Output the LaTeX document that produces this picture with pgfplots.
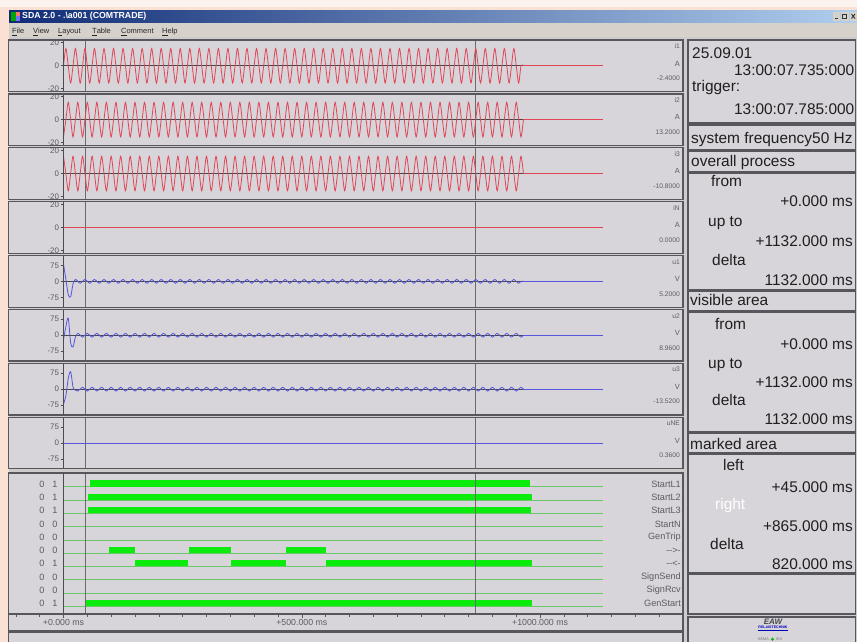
\documentclass[border=0pt]{standalone}
\usepackage{pgfplots}
\pgfplotsset{compat=1.18}
\usepackage{pgfplotstable}
\usepackage{fontspec}
\setmainfont{Liberation Sans}

\definecolor{peach}{RGB}{250,225,211}
\definecolor{peachlt}{RGB}{253,243,238}
\definecolor{winbg}{RGB}{206,203,205}
\definecolor{panelbg}{RGB}{215,212,218}
\definecolor{menubg}{RGB}{214,210,203}
\definecolor{frame}{RGB}{86,86,92}
\definecolor{txt}{RGB}{92,92,98}
\definecolor{ired}{RGB}{226,70,84}
\definecolor{ublue}{RGB}{86,86,222}
\definecolor{dgreen}{RGB}{12,236,12}
\definecolor{dline}{RGB}{105,200,105}
\definecolor{tbl}{RGB}{16,44,118}
\definecolor{tbr}{RGB}{176,206,238}

\newcommand{\sm}{\fontsize{8}{9}\selectfont}
\newcommand{\vs}{\fontsize{6.7}{7.5}\selectfont}
\newcommand{\dg}{\fontsize{9.2}{10}\selectfont}
\newcommand{\bg}{\fontsize{15.5}{17}\selectfont}

% sampled waves, 5 ms steps (peaks and zero crossings), currents in A, voltages in V
\pgfplotstableread{
t i1 i2 i3 u1 u2 u3
0 0 -15 15 80 -20 -70
5 15 0 0 10 40 -30
10 0 15 -15 -62 80 50
15 -15 0 0 -72 -35 82
20 0 -15 15 -12 -55 10
25 15 0 0 9 -8 -5
30 0 15 -15 0 9 -9
35 -15 0 0 -9 0 0
40 0 -15 15 0 -9 9
45 15 0 0 9 0 0
50 0 15 -15 0 9 -9
55 -15 0 0 -9 0 0
60 0 -15 15 0 -9 9
65 15 0 0 9 0 0
70 0 15 -15 0 9 -9
75 -15 0 0 -9 0 0
80 0 -15 15 0 -9 9
85 15 0 0 9 0 0
90 0 15 -15 0 9 -9
95 -15 0 0 -9 0 0
100 0 -15 15 0 -9 9
105 15 0 0 9 0 0
110 0 15 -15 0 9 -9
115 -15 0 0 -9 0 0
120 0 -15 15 0 -9 9
125 15 0 0 9 0 0
130 0 15 -15 0 9 -9
135 -15 0 0 -9 0 0
140 0 -15 15 0 -9 9
145 15 0 0 9 0 0
150 0 15 -15 0 9 -9
155 -15 0 0 -9 0 0
160 0 -15 15 0 -9 9
165 15 0 0 9 0 0
170 0 15 -15 0 9 -9
175 -15 0 0 -9 0 0
180 0 -15 15 0 -9 9
185 15 0 0 9 0 0
190 0 15 -15 0 9 -9
195 -15 0 0 -9 0 0
200 0 -15 15 0 -9 9
205 15 0 0 9 0 0
210 0 15 -15 0 9 -9
215 -15 0 0 -9 0 0
220 0 -15 15 0 -9 9
225 15 0 0 9 0 0
230 0 15 -15 0 9 -9
235 -15 0 0 -9 0 0
240 0 -15 15 0 -9 9
245 15 0 0 9 0 0
250 0 15 -15 0 9 -9
255 -15 0 0 -9 0 0
260 0 -15 15 0 -9 9
265 15 0 0 9 0 0
270 0 15 -15 0 9 -9
275 -15 0 0 -9 0 0
280 0 -15 15 0 -9 9
285 15 0 0 9 0 0
290 0 15 -15 0 9 -9
295 -15 0 0 -9 0 0
300 0 -15 15 0 -9 9
305 15 0 0 9 0 0
310 0 15 -15 0 9 -9
315 -15 0 0 -9 0 0
320 0 -15 15 0 -9 9
325 15 0 0 9 0 0
330 0 15 -15 0 9 -9
335 -15 0 0 -9 0 0
340 0 -15 15 0 -9 9
345 15 0 0 9 0 0
350 0 15 -15 0 9 -9
355 -15 0 0 -9 0 0
360 0 -15 15 0 -9 9
365 15 0 0 9 0 0
370 0 15 -15 0 9 -9
375 -15 0 0 -9 0 0
380 0 -15 15 0 -9 9
385 15 0 0 9 0 0
390 0 15 -15 0 9 -9
395 -15 0 0 -9 0 0
400 0 -15 15 0 -9 9
405 15 0 0 9 0 0
410 0 15 -15 0 9 -9
415 -15 0 0 -9 0 0
420 0 -15 15 0 -9 9
425 15 0 0 9 0 0
430 0 15 -15 0 9 -9
435 -15 0 0 -9 0 0
440 0 -15 15 0 -9 9
445 15 0 0 9 0 0
450 0 15 -15 0 9 -9
455 -15 0 0 -9 0 0
460 0 -15 15 0 -9 9
465 15 0 0 9 0 0
470 0 15 -15 0 9 -9
475 -15 0 0 -9 0 0
480 0 -15 15 0 -9 9
485 15 0 0 9 0 0
490 0 15 -15 0 9 -9
495 -15 0 0 -9 0 0
500 0 -15 15 0 -9 9
505 15 0 0 9 0 0
510 0 15 -15 0 9 -9
515 -15 0 0 -9 0 0
520 0 -15 15 0 -9 9
525 15 0 0 9 0 0
530 0 15 -15 0 9 -9
535 -15 0 0 -9 0 0
540 0 -15 15 0 -9 9
545 15 0 0 9 0 0
550 0 15 -15 0 9 -9
555 -15 0 0 -9 0 0
560 0 -15 15 0 -9 9
565 15 0 0 9 0 0
570 0 15 -15 0 9 -9
575 -15 0 0 -9 0 0
580 0 -15 15 0 -9 9
585 15 0 0 9 0 0
590 0 15 -15 0 9 -9
595 -15 0 0 -9 0 0
600 0 -15 15 0 -9 9
605 15 0 0 9 0 0
610 0 15 -15 0 9 -9
615 -15 0 0 -9 0 0
620 0 -15 15 0 -9 9
625 15 0 0 9 0 0
630 0 15 -15 0 9 -9
635 -15 0 0 -9 0 0
640 0 -15 15 0 -9 9
645 15 0 0 9 0 0
650 0 15 -15 0 9 -9
655 -15 0 0 -9 0 0
660 0 -15 15 0 -9 9
665 15 0 0 9 0 0
670 0 15 -15 0 9 -9
675 -15 0 0 -9 0 0
680 0 -15 15 0 -9 9
685 15 0 0 9 0 0
690 0 15 -15 0 9 -9
695 -15 0 0 -9 0 0
700 0 -15 15 0 -9 9
705 15 0 0 9 0 0
710 0 15 -15 0 9 -9
715 -15 0 0 -9 0 0
720 0 -15 15 0 -9 9
725 15 0 0 9 0 0
730 0 15 -15 0 9 -9
735 -15 0 0 -9 0 0
740 0 -15 15 0 -9 9
745 15 0 0 9 0 0
750 0 15 -15 0 9 -9
755 -15 0 0 -9 0 0
760 0 -15 15 0 -9 9
765 15 0 0 9 0 0
770 0 15 -15 0 9 -9
775 -15 0 0 -9 0 0
780 0 -15 15 0 -9 9
785 15 0 0 9 0 0
790 0 15 -15 0 9 -9
795 -15 0 0 -9 0 0
800 0 -15 15 0 -9 9
805 15 0 0 9 0 0
810 0 15 -15 0 9 -9
815 -15 0 0 -9 0 0
820 0 -15 15 0 -9 9
825 15 0 0 9 0 0
830 0 15 -15 0 9 -9
835 -15 0 0 -9 0 0
840 0 -15 15 0 -9 9
845 15 0 0 9 0 0
850 0 15 -15 0 9 -9
855 -15 0 0 -9 0 0
860 0 -15 15 0 -9 9
865 15 0 0 9 0 0
870 0 15 -15 0 9 -9
875 -15 0 0 -9 0 0
880 0 -15 15 0 -9 9
885 15 0 0 9 0 0
890 0 15 -15 0 9 -9
895 -15 0 0 -9 0 0
900 0 -15 15 0 -9 9
905 15 0 0 9 0 0
910 0 15 -15 0 9 -9
915 -15 0 0 -9 0 0
920 0 -15 15 0 -9 9
925 15 0 0 9 0 0
930 0 15 -15 0 9 -9
935 -15 0 0 -9 0 0
940 0 -15 15 0 -9 9
945 15 0 0 9 0 0
950 0 15 -15 0 9 -9
955 -15 0 0 -9 0 0
960 0 -15 15 0 -9 9
965 0 0 0 0 0 0
}\wave

\pgfplotsset{
  panel/.style={scale only axis, width=539.5bp, height=50bp, anchor=north west,
    xmin=0, xmax=1132, axis line style={draw=none}, xtick=\empty,
    ytick pos=left, tick align=outside, major tick length=3bp,
    tick style={draw=black!70, line width=0.6bp},
    tick label style={font=\sm, text=txt},
    yticklabel style={inner sep=1.2bp},
    /pgf/number format/assume math mode=true},
  ipanel/.style={panel, ymin=-21.7, ymax=21.7, ytick={-20,0,20}},
  upanel/.style={panel, ymin=-117, ymax=117, ytick={-75,0,75}},
  zl/.style={black!72, line width=0.8bp},
  cur/.style={black!58, line width=0.7bp},
  iw/.style={ired, line width=0.8bp},
  uw/.style={ublue, line width=0.8bp},
  bar/.style={dgreen, line width=6.3bp},
}
\newcommand{\cursors}{%
  \addplot[cur] coordinates {(45,-300)(45,300)};
  \addplot[cur] coordinates {(865,-300)(865,300)};}

\begin{document}
\begin{tikzpicture}
\useasboundingbox (0,0) rectangle (857bp,-642bp);

% ---------- window chrome (screen pixels, y downwards)
\begin{scope}[x=1bp,y=-1bp]
  \fill[peach] (0,0) rectangle (857,642);
  \fill[peachlt] (0,0) rectangle (857,7);
  \fill[winbg] (9,10) rectangle (857,642);
  \shade[left color=tbl, right color=tbr] (9,10) rectangle (857,22.5);
  \fill[green!65!black] (11,11.5) rectangle (15.5,21);
  \fill[red!55] (15.5,11.5) rectangle (20,16);
  \fill[blue!55] (15.5,16) rectangle (20,21);
  \node[anchor=west, inner sep=0, text=white, font=\bfseries\fontsize{8.8}{9}\selectfont]
    at (22,16.3) {SDA 2.0 - .\textbackslash a001 (COMTRADE)};
  \foreach \bx in {832.5,841,849.5}
    \fill[menubg] (\bx,12) rectangle (\bx+7.5,20.5);
  \draw[black!80, line width=0.9bp] (834.5,18.5) -- (838,18.5);
  \draw[black!80, line width=0.7bp] (842.7,14) rectangle (846.8,18.5);
  \draw[black!80, line width=0.9bp] (851.5,14) -- (855,18.5) (851.5,18.5) -- (855,14);
  \fill[menubg] (9,22.5) rectangle (857,36.5);
  \foreach \mx/\ml in {12/\underline{F}ile, 33/\underline{V}iew, 58/\underline{L}ayout,
      92/\underline{T}able, 121/\underline{C}omment, 162/\underline{H}elp}
    \node[anchor=base west, inner sep=0, font=\fontsize{7.5}{8}\selectfont, text=black!85]
      at (\mx,33.8) {\ml};
  % panels
  \foreach \T in {40,93.9,147.8,201.7,255.6,309.5,363.4,417.3}
    \fill[panelbg] (8.5,\T) rectangle (683,\T+51.5);
  \fill[panelbg] (8.5,473) rectangle (683,613.5);
  \fill[panelbg] (8.5,614.8) rectangle (683,630.5);
  \fill[panelbg] (8.5,632) rectangle (683,643);
  \foreach \a/\b in {40/123, 125/150, 151.5/172, 173.5/290, 291.5/311, 312.5/432,
      433.5/453, 454.5/573, 574.5/614, 617/643}
    \fill[panelbg] (688,\a) rectangle (855.5,\b);
\end{scope}

% ---------- analog channels
\begin{axis}[ipanel, at={(63.5bp,-40.75bp)}]
  \addplot[zl] coordinates {(0,0)(1132,0)};
  \cursors
  \addplot[iw, smooth] table[x=t, y=i1] {\wave};
  \addplot[iw] coordinates {(965,0)(1132,0)};
\end{axis}
\begin{axis}[ipanel, at={(63.5bp,-94.65bp)}]
  \addplot[zl] coordinates {(0,0)(1132,0)};
  \cursors
  \addplot[iw, smooth] table[x=t, y=i2] {\wave};
  \addplot[iw] coordinates {(965,0)(1132,0)};
\end{axis}
\begin{axis}[ipanel, at={(63.5bp,-148.55bp)}]
  \addplot[zl] coordinates {(0,0)(1132,0)};
  \cursors
  \addplot[iw, smooth] table[x=t, y=i3] {\wave};
  \addplot[iw] coordinates {(965,0)(1132,0)};
\end{axis}
\begin{axis}[ipanel, at={(63.5bp,-202.45bp)}]
  \cursors
  \addplot[iw] coordinates {(0,0)(1132,0)};
\end{axis}
\begin{axis}[upanel, at={(63.5bp,-256.35bp)}]
  \addplot[zl] coordinates {(0,0)(1132,0)};
  \cursors
  \addplot[uw, smooth] table[x=t, y=u1] {\wave};
  \addplot[uw] coordinates {(965,0)(1132,0)};
\end{axis}
\begin{axis}[upanel, at={(63.5bp,-310.25bp)}]
  \addplot[zl] coordinates {(0,0)(1132,0)};
  \cursors
  \addplot[uw, smooth] table[x=t, y=u2] {\wave};
  \addplot[uw] coordinates {(965,0)(1132,0)};
\end{axis}
\begin{axis}[upanel, at={(63.5bp,-364.15bp)}]
  \addplot[zl] coordinates {(0,0)(1132,0)};
  \cursors
  \addplot[uw, smooth] table[x=t, y=u3] {\wave};
  \addplot[uw] coordinates {(965,0)(1132,0)};
\end{axis}
\begin{axis}[upanel, at={(63.5bp,-418.05bp)}]
  \cursors
  \addplot[uw] coordinates {(0,0)(1132,0)};
\end{axis}

% ---------- binary channels (row i has its base line at y=-i)
\begin{axis}[scale only axis, width=539.5bp, height=139bp, anchor=north west,
    at={(63.5bp,-474bp)}, xmin=0, xmax=1132, ymin=-9.5, ymax=0.955,
    axis line style={draw=none}, xtick=\empty, ytick=\empty]
  \pgfplotsinvokeforeach{0,...,9}{\addplot[dline, line width=0.6bp] coordinates {(0,-#1)(1132,-#1)};}
  \addplot[bar] coordinates {(56,0.235)(979,0.235)};          % StartL1
  \addplot[bar] coordinates {(52,-0.765)(984,-0.765)};        % StartL2
  \addplot[bar] coordinates {(52,-1.765)(980,-1.765)};        % StartL3
  \addplot[bar] coordinates {(95,-4.765)(151,-4.765)};        % -->-
  \addplot[bar] coordinates {(263,-4.765)(352,-4.765)};
  \addplot[bar] coordinates {(466,-4.765)(550,-4.765)};
  \addplot[bar] coordinates {(151,-5.765)(261,-5.765)};       % --<-
  \addplot[bar] coordinates {(352,-5.765)(466,-5.765)};
  \addplot[bar] coordinates {(550,-5.765)(984,-5.765)};
  \addplot[bar] coordinates {(47,-8.765)(982,-8.765)};        % GenStart
  \addplot[cur] coordinates {(45,-20)(45,20)};
  \addplot[cur] coordinates {(865,-20)(865,20)};
\end{axis}

% ---------- time scale
\begin{axis}[scale only axis, width=672bp, height=15bp, anchor=north west,
    at={(10bp,-615bp)}, xmin=-112.3, xmax=1297.8, ymin=0, ymax=1,
    axis line style={draw=none}, ytick=\empty,
    xtick={0,500,1000}, xticklabels={+0.000 ms,+500.000 ms,+1000.000 ms},
    minor xtick={-100,-50,...,1250},
    xtick pos=right, xticklabel pos=left, tick align=inside,
    major tick length=2.5bp, minor tick length=2bp,
    tick style={draw=black!65, line width=0.6bp},
    xticklabel style={font=\fontsize{8.8}{9}\selectfont, text=txt, anchor=center, yshift=7.6bp}]
\end{axis}

% ---------- frames and texts
\begin{scope}[x=1bp,y=-1bp]
  \foreach \T in {40,93.9,147.8,201.7,255.6,309.5,363.4,417.3}{
    \draw[black!70, line width=0.8bp] (63.5,\T) -- (63.5,\T+51.5);
    \draw[frame, line width=1.2bp] (8.5,\T) rectangle (683,\T+51.5);}
  \draw[black!70, line width=0.8bp] (63.5,473) -- (63.5,613.5);
  \draw[frame, line width=1.2bp] (8.5,473) rectangle (683,613.5);
  \draw[frame, line width=1.2bp] (8.5,614.8) rectangle (683,630.5);
  \draw[frame, line width=1.2bp] (8.5,632) rectangle (683,643);
  \foreach \a/\b in {40/123, 125/150, 151.5/172, 173.5/290, 291.5/311, 312.5/432,
      433.5/453, 454.5/573, 574.5/614, 617/643}
    \draw[frame, line width=1.2bp] (688,\a) rectangle (855.5,\b);

  \foreach \T/\nm/\un/\vl in {40/i1/A/-2.4000, 93.9/i2/A/13.2000, 147.8/i3/A/-10.8000,
      201.7/iN/A/0.0000, 255.6/u1/V/5.2000, 309.5/u2/V/8.9600, 363.4/u3/V/-13.5200,
      417.3/uNE/V/0.3600}{
    \node[anchor=base east, inner sep=0, font=\vs, text=txt] at (680,\T+8.5) {\nm};
    \node[anchor=base east, inner sep=0, font=\fontsize{7.5}{8}\selectfont, text=txt] at (680,\T+26) {\un};
    \node[anchor=base east, inner sep=0, font=\vs, text=txt] at (680,\T+40.5) {\vl};}

  \foreach \y/\la/\lb/\nm in {484/0/1/StartL1, 497.3/0/1/StartL2, 510.6/0/1/StartL3,
      523.9/0/0/StartN, 537.2/0/0/GenTrip, 550.5/0/0/{-{}->-}, 563.8/0/1/{-{}-<-},
      577.1/0/0/SignSend, 590.4/0/0/SignRcv, 603.7/0/1/GenStart}{
    \node[inner sep=0, font=\dg, text=txt] at (42,\y) {\la};
    \node[inner sep=0, font=\dg, text=txt] at (55,\y) {\lb};
    \node[anchor=east, inner sep=0, font=\dg, text=txt] at (681,\y) {\nm};}

  \begin{scope}[every node/.style={inner sep=0, font=\bg, text=black!88}]
    \node[anchor=base west] at (692,58.5) {25.09.01};
    \node[anchor=base east] at (854.5,75) {13:00:07.735:000};
    \node[anchor=base west] at (692,91.5) {trigger:};
    \node[anchor=base east] at (854.5,114.5) {13:00:07.785:000};
    \node[anchor=base west] at (691,143.5) {system frequency50 Hz};
    \node[anchor=base west] at (691,166.5) {overall process};
    \node[anchor=base west] at (711,186.5) {from};
    \node[anchor=base east] at (853,206.5) {+0.000 ms};
    \node[anchor=base west] at (708,226.5) {up to};
    \node[anchor=base east] at (853,246) {+1132.000 ms};
    \node[anchor=base west] at (712,265.5) {delta};
    \node[anchor=base east] at (853,285) {1132.000 ms};
    \node[anchor=base west] at (690,305) {visible area};
    \node[anchor=base west] at (715,329.5) {from};
    \node[anchor=base east] at (853,349) {+0.000 ms};
    \node[anchor=base west] at (708,368.5) {up to};
    \node[anchor=base east] at (853,387) {+1132.000 ms};
    \node[anchor=base west] at (712,405) {delta};
    \node[anchor=base east] at (853,424) {1132.000 ms};
    \node[anchor=base west] at (690,449) {marked area};
    \node[anchor=base west] at (723,470) {left};
    \node[anchor=base east] at (853,492.5) {+45.000 ms};
    \node[anchor=base west, text=white] at (715,509.5) {right};
    \node[anchor=base east] at (853,531) {+865.000 ms};
    \node[anchor=base west] at (710,549) {delta};
    \node[anchor=base east] at (853,569.5) {820.000 ms};
  \end{scope}

  \node[inner sep=0, font=\bfseries\itshape\fontsize{8}{9}\selectfont, text=black!72] at (773,621.5) {EAW};
  \node[inner sep=0, font=\bfseries\fontsize{3.6}{4}\selectfont, text=blue!75!black] at (773,628.5) {\underline{RELAISTECHNIK}};
  \node[anchor=east, inner sep=0, font=\fontsize{3.8}{4}\selectfont, text=black!55] at (769,639.5) {KEMA};
  \fill[green!70!black] (772.5,639.3) circle (1.6);
  \node[anchor=west, inner sep=0, font=\fontsize{3.8}{4}\selectfont, text=black!55] at (776,639.5) {IEV};
\end{scope}
\end{tikzpicture}
\end{document}
